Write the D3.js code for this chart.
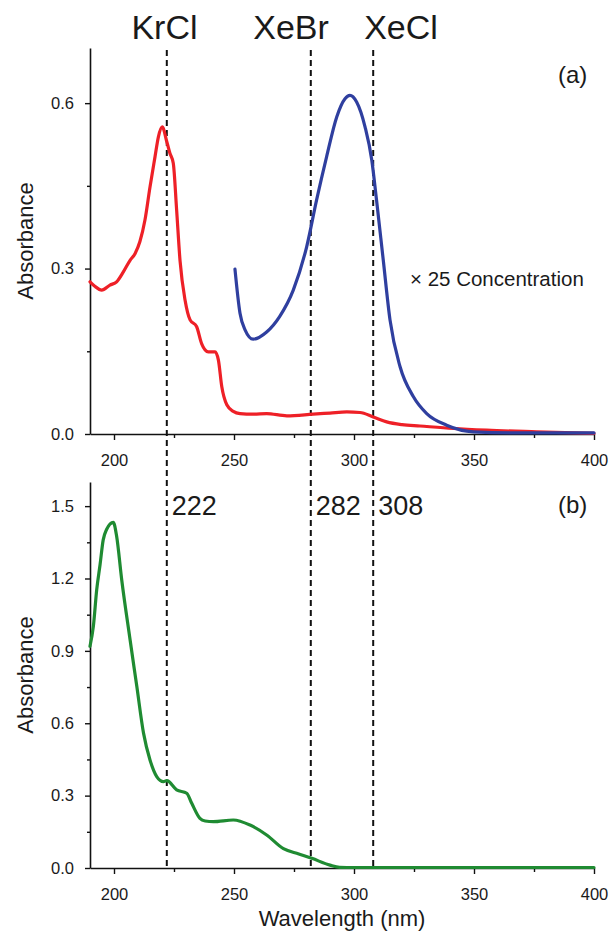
<!DOCTYPE html>
<html>
<head>
<meta charset="utf-8">
<script src="https://cdn.jsdelivr.net/npm/d3@7"></script>
<style>
  html, body { margin: 0; padding: 0; background: #fff; }
  text { font-family: "Liberation Sans", Arial, sans-serif; fill: #1a1a1a; }
</style>
</head>
<body>
<svg id="chart" width="616" height="936"></svg>
<script>
// ---- data ----
const redWavelength = [190,192,194.9,198.3,201.1,203.9,206.7,208.75,210.8,212.9,215,217.1,218.5,220.1,222,223.3,224.7,226.1,227.5,229.6,231.7,234.4,236.5,239.3,242.1,243.5,244.9,247,249.7,252.5,258,263.6,272,283,290,297,302.5,308,313.6,320,327.5,341.4,355.3,376,400];
const redAbsorbance = [0.276,0.268,0.261,0.27,0.276,0.294,0.315,0.327,0.349,0.388,0.448,0.503,0.539,0.557,0.53,0.509,0.491,0.406,0.315,0.243,0.207,0.195,0.164,0.149,0.149,0.134,0.086,0.053,0.041,0.037,0.036,0.037,0.033,0.036,0.038,0.040,0.039,0.031,0.022,0.017,0.0145,0.010,0.007,0.004,0.001];

const blueWavelength = [250.4,252.5,254.6,258,263.6,269,274.7,280.3,284.4,288.6,292.8,296.25,298.3,301.1,304.6,307.4,309.4,312.2,315,319.2,324.7,330.3,338.6,349.7,370,400];
const blueAbsorbance = [0.299,0.219,0.189,0.172,0.185,0.213,0.261,0.34,0.424,0.503,0.575,0.608,0.614,0.602,0.557,0.497,0.424,0.315,0.207,0.122,0.068,0.037,0.016,0.004,0.002,0.002];

const greenWavelength = [190,191.4,192.8,194.2,195.5,196.9,199.7,201.1,203.2,206.7,209.5,212.3,215,217.8,220.6,222,226.1,230.3,232.4,235.8,238,241.4,249.7,256.7,263.6,270.6,277,282.4,290,294,300,400];
const greenAbsorbance = [0.919,1.002,1.154,1.258,1.36,1.403,1.433,1.375,1.196,0.946,0.753,0.559,0.448,0.379,0.358,0.362,0.324,0.31,0.268,0.206,0.195,0.192,0.199,0.178,0.137,0.08,0.058,0.04,0.012,0.003,0.002,0.002];

const xMajorTicks = [200,250,300,350,400];
const xMinorTicks = [225,275,325,375];
const topYMajorTicks = [0,0.3,0.6];
const topYMinorTicks = [0.15,0.45];
const botYMajorTicks = [0,0.3,0.6,0.9,1.2,1.5];
const botYMinorTicks = [0.15,0.45,0.75,1.05,1.35];
const speciesLines = [222,282,308];
const speciesNames = ["KrCl","XeBr","XeCl"];

// ---- layout ----
const svg = d3.select("#chart");
const x = d3.scaleLinear().domain([190,400]).range([90,594]);
const yTop = d3.scaleLinear().domain([0,0.7]).range([434,48]);
const yBot = d3.scaleLinear().domain([0,1.6]).range([868,482]);

function drawAxes(y, yMajor, yMinor) {
  const yBase = y.range()[0];
  const gx = svg.append("g").attr("transform", `translate(0,${yBase})`);
  gx.call(d3.axisBottom(x).tickValues(xMajorTicks).tickFormat(d3.format("d")).tickSize(6).tickPadding(14).tickSizeOuter(0));
  gx.append("g").call(d3.axisBottom(x).tickValues(xMinorTicks).tickFormat("").tickSize(4).tickSizeOuter(0))
    .select(".domain").remove();
  const gy = svg.append("g").attr("transform", `translate(90,0)`);
  gy.call(d3.axisLeft(y).tickValues(yMajor).tickFormat(d3.format(".1f")).tickSize(5).tickPadding(11).tickSizeOuter(0));
  gy.append("g").call(d3.axisLeft(y).tickValues(yMinor).tickFormat("").tickSize(3).tickSizeOuter(0))
    .select(".domain").remove();
  svg.selectAll(".domain").attr("stroke", "#111").attr("stroke-width", 1.6);
  svg.selectAll(".tick line").attr("stroke", "#111").attr("stroke-width", 1.4);
  svg.selectAll(".tick text").attr("font-size", 16.5).attr("fill", "#222")
    .attr("font-family", "Liberation Sans, Arial, sans-serif");
}

drawAxes(yTop, topYMajorTicks, topYMinorTicks);
drawAxes(yBot, botYMajorTicks, botYMinorTicks);

// dashed species lines
svg.append("g").selectAll("line").data(speciesLines).join("line")
  .attr("x1", d => x(d)).attr("x2", d => x(d))
  .attr("y1", 50).attr("y2", yBot(0))
  .attr("stroke", "#111").attr("stroke-width", 2)
  .attr("stroke-dasharray", "6,4");

// curves
function curve(y, xs, ys, color) {
  const line = d3.line().x(d => x(d[0])).y(d => y(d[1])).curve(d3.curveMonotoneX);
  svg.append("path").datum(xs.map((v,i) => [v, ys[i]]))
    .attr("d", line).attr("fill", "none").attr("stroke", color)
    .attr("stroke-width", 3.2).attr("stroke-linejoin", "round").attr("stroke-linecap", "round");
}
curve(yTop, redWavelength, redAbsorbance, "#ee2027");
curve(yTop, blueWavelength, blueAbsorbance, "#2f3f9f");
curve(yBot, greenWavelength, greenAbsorbance, "#1f8b32");

// species names at top
const nameX = [164.5, 291, 401];
svg.append("g").selectAll("text").data(speciesNames).join("text")
  .attr("x", (d,i) => nameX[i]).attr("y", 39).attr("text-anchor", "middle")
  .attr("font-size", 34).attr("fill", "#111").text(d => d);

// wavelength numbers
svg.append("g").selectAll("text").data(speciesLines).join("text")
  .attr("x", d => x(d) + 5).attr("y", 515)
  .attr("font-size", 27).attr("fill", "#111").text(d => d);

// panel labels
svg.append("text").attr("x", 558).attr("y", 83).attr("font-size", 24).attr("fill", "#111").text("(a)");
svg.append("text").attr("x", 558).attr("y", 513).attr("font-size", 24).attr("fill", "#111").text("(b)");
svg.append("text").attr("x", 410).attr("y", 286).attr("font-size", 20.5).attr("fill", "#111").text("× 25 Concentration");

// axis titles
svg.append("text").attr("transform", "translate(33,241) rotate(-90)").attr("text-anchor", "middle")
  .attr("font-size", 22).attr("fill", "#111").text("Absorbance");
svg.append("text").attr("transform", "translate(33,675) rotate(-90)").attr("text-anchor", "middle")
  .attr("font-size", 22).attr("fill", "#111").text("Absorbance");
svg.append("text").attr("x", 342).attr("y", 926).attr("text-anchor", "middle")
  .attr("font-size", 22).attr("fill", "#111").text("Wavelength (nm)");
</script>
</body>
</html>
